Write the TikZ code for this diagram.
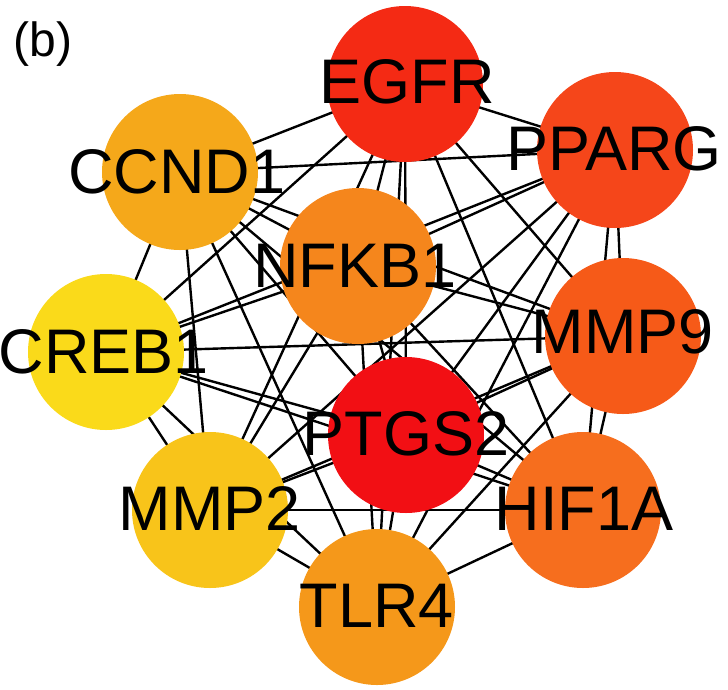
\documentclass[tikz,border=0pt]{standalone}
\usepackage{fontspec}
\setmainfont{Liberation Sans}
\definecolor{cEGFR}{HTML}{F42A14}
\definecolor{cPPARG}{HTML}{F5461A}
\definecolor{cCCND1}{HTML}{F5A81A}
\definecolor{cNFKB1}{HTML}{F5861C}
\definecolor{cCREB1}{HTML}{FADA1A}
\definecolor{cMMP9}{HTML}{F65A18}
\definecolor{cPTGS2}{HTML}{F20F14}
\definecolor{cMMP2}{HTML}{F8C41A}
\definecolor{cHIFA}{HTML}{F66E1E}
\definecolor{cTLR4}{HTML}{F5981A}
\pgfdeclarelayer{bg}
\pgfsetlayers{bg,main}
\begin{document}
\begin{tikzpicture}[x=1pt,y=-1pt,
  gene/.style={circle,minimum size=156pt,inner sep=0pt,draw=none},
  glabel/.style={anchor=base,font=\fontsize{63}{63}\selectfont,inner sep=0pt},
  edge/.style={line width=2.4pt,black}]
\useasboundingbox (0,0) rectangle (728,689);
\node[gene,fill=cEGFR]  (EGFR)  at (405,84) {};
\node[gene,fill=cPPARG] (PPARG) at (615,150) {};
\node[gene,fill=cCCND1] (CCND1) at (180,172) {};
\node[gene,fill=cNFKB1] (NFKB1) at (358,266) {};
\node[gene,fill=cCREB1] (CREB1) at (106,352) {};
\node[gene,fill=cMMP9]  (MMP9)  at (623,336) {};
\node[gene,fill=cPTGS2] (PTGS2) at (406,435) {};
\node[gene,fill=cMMP2]  (MMP2)  at (210,510) {};
\node[gene,fill=cHIFA]  (HIF1A) at (583,510) {};
\node[gene,fill=cTLR4]  (TLR4)  at (377,607) {};
\begin{pgfonlayer}{bg}
\foreach \a [count=\i] in {EGFR,PPARG,CCND1,NFKB1,CREB1,MMP9,PTGS2,MMP2,HIF1A,TLR4}{
  \foreach \b [count=\j] in {EGFR,PPARG,CCND1,NFKB1,CREB1,MMP9,PTGS2,MMP2,HIF1A,TLR4}{
    \ifnum\j>\i \draw[edge] (\a.center) -- (\b.center);\fi
  }
}
\end{pgfonlayer}
\node[glabel] (tEGFR)  at (407,103) {EGFR};
\node[glabel] (tPPARG) at (614,170) {PPARG};
\node[glabel] (tCREB1) at (104,373) {CREB1};
\node[glabel] (tCCND1) at (177,193) {CCND1};
\node[glabel] (tNFKB1) at (355,287) {NFKB1};
\node[glabel] (tMMP9)  at (623,353) {MMP9};
\node[glabel] (tPTGS2) at (406,455) {PTGS2};
\node[glabel] (tMMP2)  at (210,530) {MMP2};
\node[glabel] (tHIF1A) at (584,530) {HIF1A};
\node[glabel] (tTLR4)  at (377,627) {TLR4};
\node[anchor=base,font=\fontsize{48}{48}\selectfont,inner sep=0pt] (tb) at (43,56) {(b)};
\end{tikzpicture}
\end{document}
